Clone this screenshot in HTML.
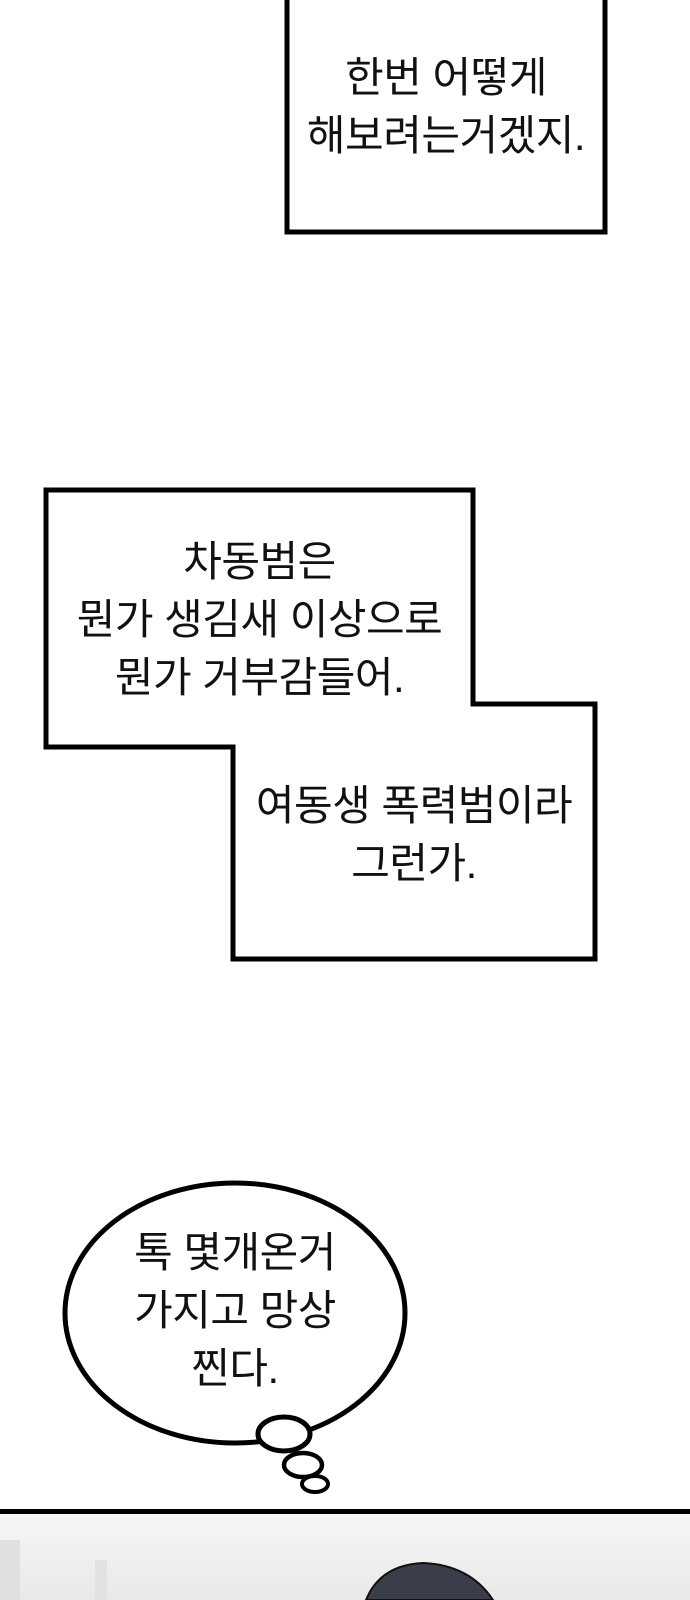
<!DOCTYPE html>
<html><head><meta charset="utf-8"><style>
html,body{margin:0;padding:0;background:#fff}
body{width:690px;height:1600px;position:relative;overflow:hidden;font-family:"Liberation Sans","Noto Sans CJK KR",sans-serif}
.t{position:absolute;font-size:42px;color:#111;text-align:center;white-space:nowrap;line-height:58px;letter-spacing:-0.5px}
</style></head><body>
<svg width="690" height="1600" style="position:absolute;left:0;top:0">
<defs><linearGradient id="g" x1="0" y1="0" x2="0" y2="1"><stop offset="0" stop-color="#f6f6f6"/><stop offset="1" stop-color="#e9e9e9"/></linearGradient></defs>
<rect x="287" y="-10" width="318" height="242" fill="#fff" stroke="#000" stroke-width="5"/>
<polygon points="46,490 473,490 473,704 595,704 595,959 233,959 233,747 46,747" fill="#fff" stroke="#000" stroke-width="5" stroke-linejoin="miter"/>
<ellipse cx="235" cy="1313" rx="170" ry="130" fill="#fff" stroke="#000" stroke-width="5"/>
<ellipse cx="284" cy="1434" rx="26" ry="17" fill="#fff" stroke="#000" stroke-width="5"/>
<ellipse cx="303" cy="1465" rx="19" ry="12" fill="#fff" stroke="#000" stroke-width="4.5"/>
<ellipse cx="315" cy="1484" rx="13" ry="8" fill="#fff" stroke="#000" stroke-width="4"/>
<rect x="0" y="1513" width="690" height="87" fill="url(#g)"/>
<rect x="0" y="1509" width="690" height="5" fill="#000"/>
<path d="M366 1600 Q380 1565 423 1563 Q470 1565 493 1600 Z" fill="#3a3d4a" stroke="#111" stroke-width="2"/>
<rect x="95" y="1560" width="12" height="40" fill="#e2e2e2"/>
<rect x="0" y="1540" width="20" height="60" fill="#e0e0e0"/>
</svg>
<div class="t" style="left:287px;width:318px;top:49px">한번 어떻게<br>해보려는거겠지.</div>
<div class="t" style="left:46px;width:427px;top:533px">차동범은<br>뭔가 생김새 이상으로<br>뭔가 거부감들어.</div>
<div class="t" style="left:233px;width:362px;top:777px">여동생 폭력범이라<br>그런가.</div>
<div class="t" style="left:65px;width:340px;top:1224px">톡 몇개온거<br>가지고 망상<br>찐다.</div>
</body></html>
